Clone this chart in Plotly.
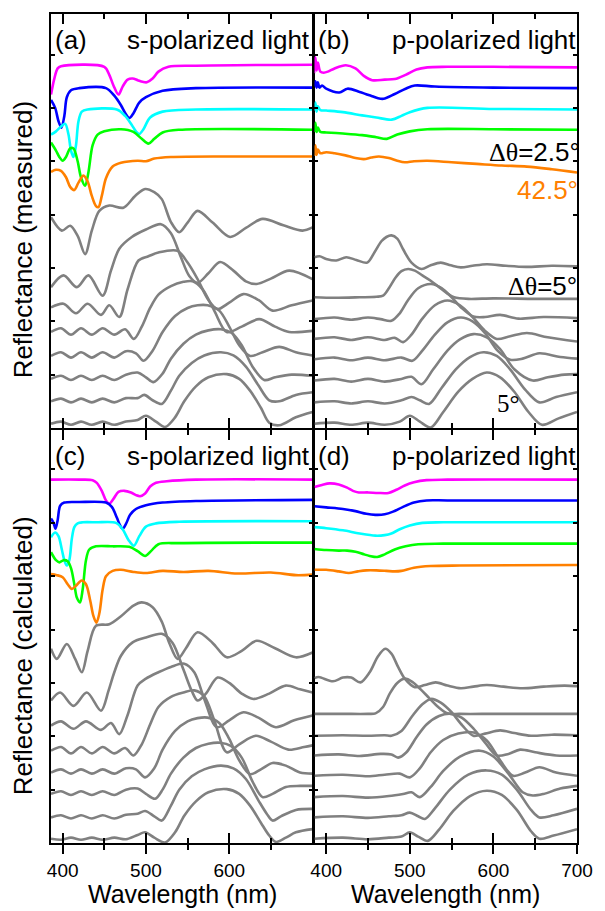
import plotly.graph_objects as go

# Incidence angles of the stacked spectra (top to bottom)
ANGLES = [52.5, 50.0, 47.5, 45.0, 42.5, 40, 35, 30, 25, 20, 15, 10, 5]
COLORS = ["#ff00ff", "#0000ff", "#00ffff", "#00ff00", "#ff8000"] + ["#808080"] * 8

# ---------------- (a) measured, s-polarized ----------------
a_wl = [
    [386, 390, 394, 398, 450, 456, 461, 467, 472, 478, 484, 490, 496, 501, 508, 515, 527, 560, 700],
    [386, 391, 395, 398.5, 402, 405, 410, 420, 452, 462, 470, 476, 480, 485, 492, 500, 520, 560, 700],
    [386, 392, 398, 403, 407, 410, 413, 416, 419, 423, 430, 465, 475, 483, 488, 492, 497, 505, 520, 560, 700],
    [386, 392, 396, 400, 404, 409, 413, 418, 422, 427, 431, 436, 442, 450, 470, 485, 495, 503, 510, 520, 540, 700],
    [386, 392, 398, 404, 409, 414, 419, 425, 430, 435, 440, 443, 447, 452, 460, 470, 490, 500, 510, 530, 600, 700],
    [386, 399, 409, 418, 427, 435, 444, 456, 473, 487, 499, 510, 519, 530, 540, 550, 562, 580, 601, 620, 640, 665, 688, 700],
    [386, 401, 417, 431, 448, 458, 468, 483, 500, 518, 530, 542, 552, 562, 575, 589, 605, 620, 633, 650, 672, 700],
    [386, 401, 416, 430, 446, 456, 468, 478, 491, 503, 515, 538, 550, 562, 575, 586, 600, 617, 635, 652, 675, 700],
    [386, 398, 410, 422, 435, 448, 462, 475, 485.5, 495, 505, 515, 530, 545, 556, 568, 582, 597, 615, 636, 655, 672, 700],
    [386, 398, 410, 422, 435, 448, 462, 476, 488, 497, 508, 520, 535, 550, 562, 574, 588, 600, 612, 625, 640, 660, 680, 700],
    [386, 398, 410, 422, 435, 448, 462, 476, 490, 500, 509, 520, 530, 545, 560, 575, 590, 603, 615, 628, 642, 655, 675, 700],
    [386, 398, 410, 422, 435, 448, 462, 476, 490, 498, 508, 519, 530, 540, 555, 570, 590, 605, 620, 635, 648, 660, 680, 700],
    [386, 398, 410, 422, 435, 448, 462, 476, 490, 500, 512, 523, 535, 546, 560, 575, 597, 612, 625, 638, 648, 660, 680, 700],
]
a_r = [
    [6.25, 6.55, 6.74, 6.78, 6.77, 6.62, 6.42, 6.25, 6.40, 6.53, 6.55, 6.52, 6.49, 6.48, 6.55, 6.68, 6.77, 6.79, 6.81],
    [6.15, 6.0, 5.75, 5.63, 5.85, 6.2, 6.33, 6.37, 6.37, 6.23, 6.05, 5.88, 5.81, 5.9, 6.1, 6.2, 6.32, 6.37, 6.38],
    [5.5, 5.56, 5.65, 5.7, 5.5, 5.2, 5.08, 5.3, 5.75, 5.93, 5.97, 5.97, 5.85, 5.68, 5.56, 5.51, 5.6, 5.82, 5.93, 5.97, 5.97],
    [5.35, 5.2, 5.08, 5.01, 5.08, 5.24, 5.24, 5.0, 4.7, 4.54, 4.8, 5.3, 5.5, 5.56, 5.6, 5.55, 5.42, 5.33, 5.42, 5.54, 5.59, 5.59],
    [4.8, 4.84, 4.82, 4.7, 4.52, 4.46, 4.6, 4.73, 4.62, 4.35, 4.16, 4.14, 4.35, 4.68, 4.9, 4.97, 5.01, 5.0, 5.05, 5.08, 5.09, 5.09],
    [3.95, 3.7, 3.79, 3.6, 3.26, 3.7, 4.07, 4.17, 4.13, 4.35, 4.48, 4.42, 4.29, 3.86, 3.67, 3.85, 4.07, 3.85, 3.58, 3.75, 3.92, 3.8, 3.70, 3.76],
    [2.64, 2.86, 2.64, 2.86, 2.48, 2.95, 3.36, 3.58, 3.72, 3.82, 3.65, 3.2, 2.85, 2.72, 2.9, 3.11, 2.95, 2.75, 2.7, 2.8, 2.95, 2.79],
    [2.26, 2.33, 2.15, 2.33, 2.12, 2.3, 2.08, 2.6, 3.14, 3.22, 3.29, 3.32, 3.1, 2.79, 2.4, 2.23, 2.35, 2.51, 2.4, 2.2, 2.3, 2.39],
    [1.8, 1.87, 1.75, 1.87, 1.75, 1.87, 1.75, 1.85, 1.67, 1.9, 2.25, 2.5, 2.66, 2.74, 2.75, 2.6, 2.2, 1.8, 1.9, 2.04, 1.9, 1.8, 1.82],
    [1.35, 1.42, 1.32, 1.42, 1.32, 1.42, 1.32, 1.44, 1.4, 1.26, 1.45, 1.8, 2.1, 2.25, 2.3, 2.3, 2.2, 1.9, 1.55, 1.35, 1.42, 1.52, 1.42, 1.36],
    [0.92, 0.98, 0.9, 0.98, 0.9, 0.98, 0.9, 1.0, 1.04, 0.95, 0.86, 1.02, 1.3, 1.58, 1.75, 1.83, 1.85, 1.78, 1.55, 1.15, 0.9, 0.95, 1.0, 0.98],
    [0.5, 0.55, 0.48, 0.55, 0.48, 0.55, 0.48, 0.56, 0.56, 0.62, 0.52, 0.45, 0.7, 0.98, 1.22, 1.36, 1.42, 1.36, 1.15, 0.8, 0.52, 0.5, 0.62, 0.67],
    [0.08, 0.12, 0.06, 0.12, 0.06, 0.12, 0.06, 0.12, 0.15, 0.23, 0.12, 0.02, 0.2, 0.5, 0.78, 0.95, 1.01, 0.92, 0.7, 0.38, 0.1, 0.05, 0.2, 0.3],
]

# ---------------- (b) measured, p-polarized ----------------
b_wl = [
    [385.5, 387, 388.5, 390, 393, 397, 402, 410, 423.5, 435, 445, 455, 470, 482, 495, 508, 521, 545, 600, 700],
    [385.5, 387, 388.5, 390, 392, 395, 400, 415.7, 425.5, 440, 455, 462, 468.6, 482, 495, 506, 530, 600, 700],
    [385.5, 387, 388.5, 390, 393, 400, 420, 443, 460, 478.4, 490, 500, 521, 600, 700],
    [385.5, 387, 388.5, 390, 393, 400, 420, 443, 460, 472.5, 485, 500, 521, 600, 700],
    [385.5, 387, 388.5, 390, 393, 400, 410, 423, 435, 445, 454, 463, 475, 485, 494, 505, 521, 550, 580, 610, 640, 670, 700],
    [386, 392, 400, 412, 424, 436, 449, 458, 466, 472, 478, 485, 492, 502, 514, 525, 537, 549, 561, 575, 592, 615, 639, 670, 700],
    [386, 410, 440, 460, 468, 475, 483, 490, 498, 506, 515, 525, 535, 545, 553, 570, 600, 650, 700],
    [386, 410, 430, 450, 465, 478, 488, 498, 510, 525.5, 538, 550, 562, 576, 590, 608, 630, 660, 700],
    [386, 410, 430, 450, 470, 482, 492, 502, 515, 530, 545, 560, 575, 590, 604, 620, 640, 665, 700],
    [386, 410, 430, 450, 470, 490, 503, 515, 530, 545, 561, 575, 590, 605, 620, 635, 655, 680, 700],
    [386, 410, 430, 450, 470, 490, 502, 514, 528, 545, 560, 576, 592, 608, 625, 647, 665, 685, 700],
    [386, 410, 430, 450, 470, 490, 502, 512, 523, 538, 555, 572, 588, 604, 620, 638, 655, 675, 700],
    [386, 410, 430, 450, 470, 488, 500, 512, 525, 540, 558, 575, 592, 608, 625, 642, 658, 678, 700],
]
b_r = [
    [6.65, 6.95, 6.7, 6.85, 6.68, 6.66, 6.68, 6.74, 6.8, 6.74, 6.6, 6.52, 6.53, 6.54, 6.62, 6.72, 6.76, 6.77, 6.77, 6.76],
    [6.4, 6.5, 6.38, 6.48, 6.38, 6.42, 6.36, 6.29, 6.36, 6.3, 6.22, 6.18, 6.17, 6.26, 6.36, 6.42, 6.4, 6.38, 6.37],
    [5.95, 6.1, 5.93, 6.03, 5.96, 5.95, 5.92, 5.86, 5.82, 5.78, 5.85, 5.92, 6.0, 5.98, 5.97],
    [5.55, 5.72, 5.55, 5.63, 5.55, 5.54, 5.52, 5.49, 5.45, 5.42, 5.5, 5.56, 5.6, 5.6, 5.59],
    [5.1, 5.3, 5.12, 5.22, 5.15, 5.17, 5.15, 5.11, 5.06, 5.04, 5.07, 5.09, 5.06, 5.01, 4.98, 5.0, 5.01, 4.98, 4.95, 4.92, 4.9, 4.85, 4.79],
    [3.2, 3.22, 3.17, 3.14, 3.2, 3.15, 3.1, 3.3, 3.5, 3.58, 3.61, 3.55, 3.35, 3.1, 2.98, 3.05, 3.1, 3.05, 3.01, 3.04, 3.07, 3.04, 3.02, 3.04, 3.03],
    [2.45, 2.44, 2.45, 2.46, 2.48, 2.62, 2.82, 2.94, 2.98, 2.95, 2.86, 2.76, 2.64, 2.52, 2.45, 2.42, 2.43, 2.42, 2.42],
    [2.04, 2.07, 2.03, 2.07, 2.04, 2.01, 2.15, 2.4, 2.62, 2.7, 2.62, 2.45, 2.25, 2.09, 2.08, 2.12, 2.05, 2.08, 2.06],
    [1.67, 1.7, 1.65, 1.7, 1.65, 1.69, 1.61, 1.75, 2.05, 2.3, 2.39, 2.3, 2.08, 1.82, 1.67, 1.72, 1.78, 1.7, 1.62],
    [1.29, 1.32, 1.27, 1.32, 1.27, 1.32, 1.26, 1.45, 1.75, 1.98, 2.07, 2.0, 1.78, 1.45, 1.28, 1.3, 1.4, 1.33, 1.3],
    [0.89, 0.92, 0.87, 0.92, 0.87, 0.92, 0.96, 0.82, 1.1, 1.45, 1.66, 1.76, 1.7, 1.48, 1.1, 0.89, 0.95, 1.0, 1.01],
    [0.48, 0.5, 0.46, 0.5, 0.46, 0.52, 0.58, 0.52, 0.45, 0.75, 1.1, 1.33, 1.42, 1.35, 1.1, 0.72, 0.48, 0.58, 0.67],
    [0.08, 0.1, 0.06, 0.1, 0.06, 0.12, 0.23, 0.12, 0.01, 0.3, 0.68, 0.92, 1.04, 0.95, 0.68, 0.3, 0.06, 0.18, 0.3],
]

# ---------------- (c) calculated, s-polarized ----------------
c_wl = [
    [386, 420, 436, 441, 447, 452, 456, 461, 467, 474, 482, 488, 493, 499, 505, 512, 525, 560, 700],
    [386, 389, 391.4, 394, 397, 402, 420, 452, 459, 465, 469, 472, 476, 481, 488, 500, 520, 560, 700],
    [386, 391, 395, 399, 402, 405, 408, 411, 414, 418, 424, 440, 464, 472, 479, 485.5, 492, 500, 512, 540, 700],
    [386, 392, 396, 401, 406, 410, 414, 417, 420.8, 424, 428, 432, 440, 460, 480, 490, 499, 506, 515, 540, 700],
    [386, 393, 400, 406, 411, 416, 422.8, 428, 433, 437, 440.5, 444, 448, 452, 460, 470, 485, 500, 520, 545, 575, 610, 650, 680, 700],
    [386, 393, 405, 415, 423, 430, 440, 456, 470, 485, 495, 508, 519, 528, 538, 548, 562, 580, 597, 615, 633, 655, 680, 700],
    [386, 397, 413, 429, 446, 455, 462, 470, 484, 500, 519, 532, 545, 555, 562, 572, 586, 600, 615, 629, 648, 668, 685, 700],
    [386, 398, 413, 428, 446, 458, 468, 478, 490, 500, 515, 530, 546, 558, 570, 585, 600, 617, 635, 656, 678, 700],
    [386, 398, 410, 422, 435, 448, 462, 475, 485, 495, 505, 515, 530, 545, 558, 570, 582, 597, 612, 632, 650, 671, 690, 700],
    [386, 398, 410, 422, 435, 448, 462, 476, 488, 499, 510, 520, 535, 550, 562, 574, 588, 600, 612, 625, 638, 652, 668, 685, 700],
    [386, 398, 410, 422, 435, 448, 462, 476, 490, 500, 511, 520, 530, 545, 560, 575, 589, 602, 615, 628, 640, 652, 668, 685, 700],
    [386, 398, 410, 422, 435, 448, 462, 476, 490, 499, 510, 519, 530, 540, 555, 570, 590, 605, 620, 635, 645, 652, 662, 680, 700],
    [386, 398, 410, 422, 435, 448, 462, 476, 490, 499, 510, 523, 535, 546, 560, 575, 597, 612, 625, 638, 648, 656, 668, 680, 700],
]
c_r = [
    [6.81, 6.81, 6.8, 6.75, 6.6, 6.42, 6.36, 6.45, 6.58, 6.6, 6.57, 6.52, 6.5, 6.55, 6.68, 6.75, 6.78, 6.81, 6.81],
    [6.08, 6.0, 5.89, 6.05, 6.32, 6.38, 6.39, 6.38, 6.3, 6.1, 5.95, 5.89, 5.98, 6.15, 6.26, 6.33, 6.38, 6.41, 6.43],
    [5.73, 5.82, 5.75, 5.5, 5.3, 5.2, 5.3, 5.7, 5.92, 5.99, 6.01, 6.01, 6.0, 5.88, 5.68, 5.57, 5.75, 5.93, 5.99, 6.02, 6.03],
    [5.45, 5.3, 5.26, 5.3, 5.28, 5.15, 4.85, 4.6, 4.51, 4.75, 5.3, 5.5, 5.56, 5.56, 5.55, 5.47, 5.38, 5.47, 5.6, 5.62, 5.63],
    [5.04, 5.02, 4.98, 4.85, 4.76, 4.82, 4.92, 4.85, 4.55, 4.25, 4.13, 4.3, 4.75, 5.0, 5.1, 5.12, 5.08, 5.06, 5.1, 5.08, 5.1, 5.05, 5.07, 5.02, 5.03],
    [3.64, 3.45, 3.73, 3.45, 3.2, 3.6, 4.07, 4.1, 4.25, 4.45, 4.51, 4.42, 4.15, 3.75, 3.45, 3.65, 3.95, 3.75, 3.48, 3.6, 3.79, 3.65, 3.48, 3.57],
    [2.67, 2.82, 2.57, 2.82, 2.48, 2.85, 3.2, 3.51, 3.76, 3.85, 3.92, 3.75, 3.25, 2.85, 2.67, 2.8, 3.1, 3.0, 2.8, 2.7, 2.8, 2.95, 2.88, 2.82],
    [2.2, 2.28, 2.14, 2.28, 2.12, 2.25, 2.04, 2.4, 2.95, 3.08, 3.2, 3.3, 3.36, 3.2, 2.7, 2.17, 2.3, 2.45, 2.35, 2.17, 2.3, 2.39],
    [1.73, 1.8, 1.68, 1.8, 1.68, 1.8, 1.68, 1.78, 1.64, 1.85, 2.22, 2.55, 2.74, 2.82, 2.86, 2.75, 2.3, 1.7, 1.85, 2.01, 1.9, 1.75, 1.8, 1.83],
    [1.32, 1.38, 1.3, 1.38, 1.3, 1.38, 1.3, 1.4, 1.38, 1.23, 1.4, 1.75, 2.1, 2.28, 2.34, 2.35, 2.25, 1.95, 1.55, 1.29, 1.38, 1.5, 1.45, 1.32, 1.3],
    [0.92, 0.97, 0.9, 0.97, 0.9, 0.97, 0.9, 1.0, 1.02, 0.92, 0.83, 1.0, 1.3, 1.6, 1.78, 1.86, 1.88, 1.82, 1.6, 1.15, 0.86, 0.92, 1.05, 1.07, 1.07],
    [0.48, 0.52, 0.46, 0.52, 0.46, 0.52, 0.46, 0.53, 0.55, 0.6, 0.5, 0.42, 0.7, 1.0, 1.25, 1.38, 1.45, 1.4, 1.2, 0.8, 0.55, 0.42, 0.5, 0.62, 0.64],
    [0.08, 0.06, 0.1, 0.06, 0.1, 0.06, 0.1, 0.07, 0.15, 0.2, 0.1, 0.01, 0.2, 0.51, 0.78, 0.95, 1.01, 0.92, 0.7, 0.38, 0.14, 0.02, 0.1, 0.2, 0.26],
]

# ---------------- (d) calculated, p-polarized ----------------
d_wl = [
    [386, 395, 404, 415, 425, 432, 439, 450, 462, 474.5, 484, 494, 505, 520, 545, 700],
    [386, 400, 420, 435, 448, 458.8, 470, 480, 492, 505, 520, 545, 700],
    [386, 400, 420, 440, 458.8, 470, 478, 488, 500, 515, 540, 700],
    [386, 400, 415, 425, 435, 445, 452, 461, 470, 482, 495, 510, 540, 700],
    [386, 400, 415, 427, 438, 448, 460, 472, 482, 490, 505, 525, 560, 700],
    [386, 391, 408, 420, 430, 441, 452, 462, 470.6, 478, 486, 494, 506, 518, 531, 545, 561, 576, 592, 612, 635, 660, 685, 700],
    [386, 420, 450, 459, 468, 476, 485, 494, 503, 513, 523, 534, 545, 560, 600, 650, 700],
    [386, 420, 450, 470, 478, 490, 503, 515, 525.5, 537, 550, 563, 576, 590, 608, 625, 645, 670, 700],
    [386, 415, 440, 465, 478, 486, 496, 508, 520, 535, 549, 562, 576, 590, 604, 618, 632, 650, 675, 700],
    [386, 420, 450, 470, 488, 500, 512, 525, 540, 558, 576.5, 592, 608, 623.5, 638, 655, 675, 700],
    [386, 420, 450, 475, 492, 502, 512, 525, 540, 560, 584, 600, 618, 635, 647, 660, 680, 700],
    [386, 420, 450, 475, 490, 500, 510, 518, 530, 548, 570, 592, 610, 628, 645, 655, 672, 700],
    [386, 420, 450, 475, 490, 500, 510, 521.6, 535, 552, 572, 592, 610, 628, 645, 655, 672, 700],
]
d_r = [
    [6.67, 6.71, 6.74, 6.72, 6.66, 6.6, 6.57, 6.57, 6.56, 6.56, 6.62, 6.7, 6.76, 6.8, 6.81, 6.81],
    [6.31, 6.29, 6.26, 6.22, 6.17, 6.15, 6.16, 6.21, 6.3, 6.38, 6.42, 6.42, 6.42],
    [5.92, 5.9, 5.86, 5.8, 5.76, 5.77, 5.8, 5.88, 5.95, 6.0, 6.01, 6.01],
    [5.51, 5.49, 5.48, 5.48, 5.46, 5.41, 5.38, 5.36, 5.41, 5.5, 5.56, 5.6, 5.61, 5.61],
    [5.12, 5.12, 5.09, 5.06, 5.09, 5.11, 5.11, 5.1, 5.09, 5.1, 5.16, 5.19, 5.2, 5.21],
    [3.09, 3.11, 3.03, 3.1, 3.1, 3.01, 3.2, 3.5, 3.64, 3.55, 3.3, 3.08, 2.92, 2.96, 3.01, 2.95, 2.9, 2.93, 2.96, 2.93, 2.9, 2.93, 2.95, 2.94],
    [2.42, 2.42, 2.42, 2.43, 2.55, 2.8, 3.0, 3.08, 3.02, 2.88, 2.72, 2.55, 2.43, 2.42, 2.42, 2.42, 2.42],
    [2.01, 2.02, 2.01, 2.02, 2.01, 2.1, 2.38, 2.6, 2.7, 2.63, 2.45, 2.2, 2.01, 2.05, 2.11, 2.06, 2.01, 2.03, 2.02],
    [1.64, 1.66, 1.63, 1.67, 1.66, 1.6, 1.7, 1.98, 2.22, 2.38, 2.42, 2.35, 2.15, 1.88, 1.64, 1.67, 1.75, 1.7, 1.64, 1.64],
    [1.26, 1.28, 1.25, 1.28, 1.3, 1.23, 1.4, 1.7, 1.93, 2.05, 2.07, 1.92, 1.55, 1.26, 1.32, 1.42, 1.32, 1.26],
    [0.86, 0.88, 0.85, 0.88, 0.92, 0.95, 0.86, 1.05, 1.35, 1.62, 1.73, 1.62, 1.3, 0.95, 0.89, 0.92, 1.02, 1.07],
    [0.48, 0.5, 0.47, 0.5, 0.52, 0.57, 0.5, 0.45, 0.65, 1.0, 1.28, 1.36, 1.28, 1.0, 0.62, 0.48, 0.52, 0.64],
    [0.08, 0.1, 0.07, 0.1, 0.12, 0.2, 0.12, 0.04, 0.25, 0.6, 0.88, 0.98, 0.9, 0.62, 0.22, 0.08, 0.14, 0.26],
]

FONT = "Liberation Sans, Arial, sans-serif"
SERIF = "Liberation Serif, Times New Roman, serif"
X_RANGE = [386.0, 700.0]

# plot area in pixels: x 51..584, y 14..843; panels share 2 px frame lines
L, R, T, B = 51, 584, 14, 843
W, H = R - L, B - T
LEFT_DOM = [0, (316 - L) / W]
RIGHT_DOM = [(318 - L) / W, 1]
TOP_DOM = [(B - 428) / H, 1]
BOT_DOM = [0, (B - 430) / H]

fig = go.Figure()

panels = [
    (a_wl, a_r, "x", "y"),
    (b_wl, b_r, "x2", "y2"),
    (c_wl, c_r, "x3", "y3"),
    (d_wl, d_r, "x4", "y4"),
]
for wls, refl, xa, ya in panels:
    # gray low-angle curves first, coloured high-angle curves on top
    order = list(range(5, 13)) + list(range(0, 5))
    for i in order:
        fig.add_trace(go.Scatter(
            x=wls[i], y=refl[i], xaxis=xa, yaxis=ya, mode="lines",
            line=dict(color=COLORS[i], width=2.6, shape="spline", smoothing=0.9),
            name=f"{ANGLES[i]}°", showlegend=False, hoverinfo="skip"))

# empty traces so the outside-tick overlay axes are drawn
for xa, ya in (("x5", "y3"), ("x6", "y4")):
    fig.add_trace(go.Scatter(x=[None], y=[None], xaxis=xa, yaxis=ya,
                             showlegend=False, hoverinfo="skip"))

def x_axis(domain, anchor, labels):
    return dict(
        domain=domain, anchor=anchor, range=X_RANGE,
        showgrid=False, zeroline=False, showline=True,
        linecolor="black", linewidth=2, mirror="ticks",
        ticks="inside", ticklen=10, tickwidth=2, tickcolor="black",
        tickmode="array", tickvals=labels, showticklabels=False,
        minor=dict(ticks="inside", ticklen=5, tickwidth=2, tickcolor="black",
                   tickmode="array", tickvals=[450, 550, 650]),
    )

def x_out(overlay, anchor, labels):
    return dict(
        overlaying=overlay, anchor=anchor, range=X_RANGE, side="bottom",
        showgrid=False, zeroline=False, showline=False,
        ticks="outside", ticklen=10, tickwidth=2, tickcolor="black",
        tickmode="array", tickvals=labels, showticklabels=True,
        tickfont=dict(family=FONT, size=19, color="black"),
        minor=dict(ticks="outside", ticklen=6, tickwidth=2, tickcolor="black",
                   tickmode="array", tickvals=[450, 550, 650]),
    )

def y_axis(domain, anchor, top):
    return dict(
        domain=domain, anchor=anchor, range=[0, top],
        showgrid=False, zeroline=False, showline=True,
        linecolor="black", linewidth=2, mirror="ticks",
        ticks="inside", ticklen=4, tickwidth=1.5, tickcolor="black",
        tick0=0, dtick=1, showticklabels=False,
    )

left_ticks = [400, 500, 600]
right_ticks = [400, 500, 600, 700]
fig.update_layout(
    xaxis=x_axis(LEFT_DOM, "y", left_ticks),
    xaxis2=x_axis(RIGHT_DOM, "y2", right_ticks),
    xaxis3=x_axis(LEFT_DOM, "y3", left_ticks),
    xaxis4=x_axis(RIGHT_DOM, "y4", right_ticks),
    xaxis5=x_out("x3", "y3", left_ticks),
    xaxis6=x_out("x4", "y4", right_ticks),
    yaxis=y_axis(TOP_DOM, "x", 7.76),
    yaxis2=y_axis(TOP_DOM, "x2", 7.76),
    yaxis3=y_axis(BOT_DOM, "x3", 7.74),
    yaxis4=y_axis(BOT_DOM, "x4", 7.74),
)

def px(x):
    return (x - L) / W

def py(y):
    return (B - y) / H

notes = [
    ("(a)", 53, 40, "left", FONT, "black", 26),
    ("s-polarized light", 315, 40, "right", FONT, "black", 26),
    ("(b)", 320, 40, "left", FONT, "black", 26),
    ("p-polarized light", 585, 40, "right", FONT, "black", 26),
    ("(c)", 53, 456, "left", FONT, "black", 26),
    ("s-polarized light", 315, 456, "right", FONT, "black", 26),
    ("(d)", 320, 456, "left", FONT, "black", 26),
    ("p-polarized light", 585, 456, "right", FONT, "black", 26),
    (f"<span style='font-family:{SERIF}'>Δθ</span>=2.5°", 589, 152, "right", FONT, "black", 26),
    ("42.5°", 587, 190, "right", FONT, "#ff8000", 26),
    (f"<span style='font-family:{SERIF}'>Δθ</span>=5°", 586, 286, "right", FONT, "black", 26),
    ("5°", 528, 404, "right", SERIF, "black", 25),
]
ann = []
for text, x, y, anchor, fam, col, size in notes:
    ann.append(dict(text=text, x=px(x), y=py(y), xref="paper", yref="paper",
                    xanchor=anchor, yanchor="middle", showarrow=False,
                    font=dict(family=fam, size=size, color=col)))
# x-axis titles, hung just below the tick labels
for xc in (184, 451):
    ann.append(dict(text="Wavelength (nm)", x=px(xc), y=py(879), xref="paper",
                    yref="paper", xanchor="center", yanchor="top", showarrow=False,
                    borderpad=0, font=dict(family=FONT, size=25, color="black")))
for text, y in (("Reflectance (measured)", 240), ("Reflectance (calculated)", 656)):
    ann.append(dict(text=text, x=px(23), y=py(y), xref="paper", yref="paper",
                    xanchor="center", yanchor="middle", textangle=-90,
                    showarrow=False, font=dict(family=FONT, size=26, color="black")))

fig.update_layout(
    width=605, height=911,
    margin=dict(l=L, r=605 - R, t=T, b=911 - B),
    paper_bgcolor="white", plot_bgcolor="white",
    annotations=ann, showlegend=False,
    font=dict(family=FONT, color="black"),
)

fig.write_html("out.html")
